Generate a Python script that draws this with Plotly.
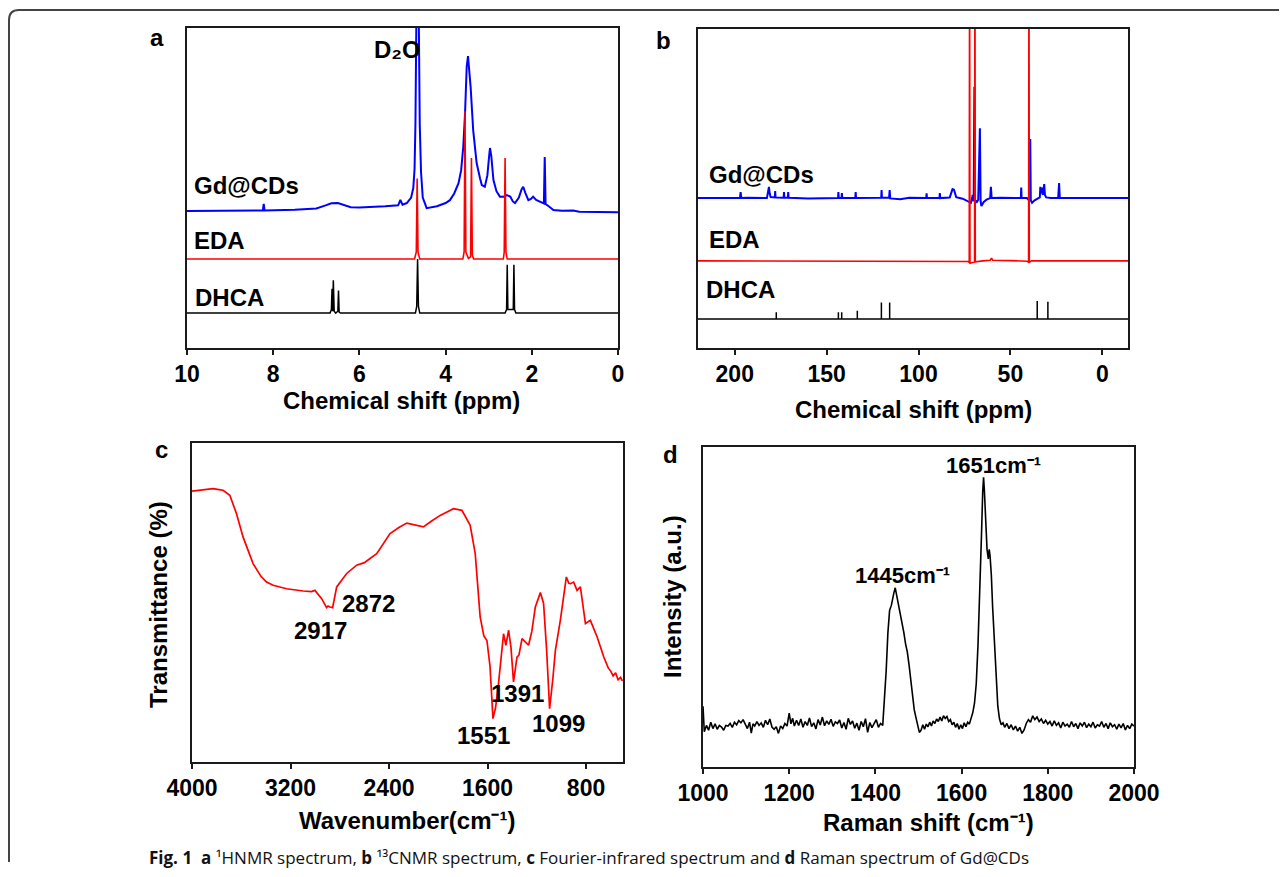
import plotly.graph_objects as go

W, H = 1287, 877
OFFSET = 8  # page margin the browser adds around the plot div

# ---- a: 1H NMR (ppm, offset intensity) ----
hnmr_gd_ppm = [10, 9, 8.3, 8.24, 8.22, 8.2, 7.5, 7.0, 6.8, 6.65, 6.5, 6.35, 6.2, 6.0, 5.8, 5.4, 5.1, 5.05, 5.0,
               4.9, 4.8, 4.75, 4.72, 4.7, 4.68, 4.67, 4.63, 4.62, 4.6, 4.57, 4.53, 4.44, 4.2, 4.0, 3.9, 3.8, 3.7,
               3.64, 3.59, 3.55, 3.53, 3.51, 3.48, 3.45, 3.42, 3.36, 3.28, 3.2, 3.16, 3.09, 3.03, 2.99, 2.97,
               2.94, 2.89, 2.82, 2.74, 2.65, 2.58, 2.5, 2.44, 2.39, 2.3, 2.24, 2.2, 2.15, 2.08, 2.02, 1.97, 1.9,
               1.81, 1.72, 1.7, 1.68, 1.6, 1.5, 1.3, 1.1, 1.04, 0.9, 0]
hnmr_gd_int = [42.8, 42.9, 43.0, 43.0, 45.0, 43.0, 43.2, 43.6, 44.5, 45.2, 45.3, 44.6, 44.0, 43.9, 44.0, 44.3,
               44.6, 46.3, 44.8, 45.3, 47, 50, 56, 70, 100, 125, 125, 100, 70, 55, 47, 43.7, 44.3, 45.3, 46.2,
               48.3, 51.5, 55.5, 62.9, 73, 81.7, 88, 91.2, 87, 81.7, 68.1, 57.8, 53, 50.9, 50.4, 54, 60, 62.5, 60,
               52.5, 49, 47.3, 47.3, 47.8, 47.3, 45.8, 45.3, 47, 49.5, 50.4, 48.5, 46.2, 46.6, 47.3, 46.3, 45.7,
               45.2, 59.7, 45, 44.2, 43.1, 42.9, 42.8, 43.0, 42.6, 42.4]
hnmr_eda_ppm = [10, 4.72, 4.68, 4.66, 4.64, 4.6, 3.6, 3.57, 3.55, 3.53, 3.47, 3.42, 3.4, 3.38, 3.35, 2.66, 2.64,
                2.62, 2.6, 2.57, 0]
hnmr_eda_int = [27.8, 27.8, 30, 53, 30, 27.8, 27.8, 30, 74, 30, 28, 28.5, 59.4, 29, 27.8, 27.8, 30, 59.4, 30,
                27.8, 27.8]
hnmr_dhca_ppm = [10, 6.68, 6.65, 6.635, 6.62, 6.605, 6.585, 6.55, 6.5, 6.485, 6.47, 6.44, 4.7, 4.67, 4.65, 4.63,
                 4.6, 2.62, 2.585, 2.57, 2.555, 2.43, 2.415, 2.4, 2.37, 0]
hnmr_dhca_int = [10.9, 10.9, 12, 18.5, 11.5, 21.2, 11.5, 10.9, 11.5, 18, 11.2, 10.9, 10.9, 13, 27.8, 13, 10.9,
                 10.9, 12, 26, 12, 12, 26, 12, 10.9, 10.9]

# ---- b: 13C NMR ----
cnmr_gd_ppm = [220, 197.2, 196.8, 196.4, 193, 182.5, 181.8, 181.4, 181, 180.5, 178.2, 178, 177.8, 173.4, 173.2,
               173, 171.1, 170.9, 170.7, 160, 143.8, 143.6, 143.4, 141.9, 141.7, 141.5, 134.4, 134.2, 134, 120.3,
               120.1, 119.9, 116, 115.7, 115.4, 110, 105, 95.8, 95.6, 95.4, 88.6, 88.4, 88.2, 83, 81.5, 80.7,
               79.5, 76, 73, 71.5, 70.8, 70.5, 70.0, 69.6, 69.2, 68.5, 67.5, 66.6, 66.2, 65.8, 64.5, 63, 61,
               60.6, 60.2, 55, 48, 44.3, 44.1, 43.9, 41, 40, 39.4, 39.2, 38.9, 38.2, 37, 35, 34, 33.7, 33.4, 32.8,
               32.4, 31.6, 31.2, 30.5, 28, 24, 23.5, 23.1, 10, -14]
cnmr_gd_int = [47, 47, 48.9, 47, 47.1, 47, 49.2, 50.5, 48.5, 47.3, 47.2, 49.2, 47.2, 47.1, 48.9, 47.1, 47.1, 48.9,
               47.1, 46.9, 47, 48.9, 47, 47, 48.6, 47, 47, 48.9, 47, 47.1, 49.5, 47.1, 47.1, 49.5, 46.9, 46.6,
               47.1, 47, 48.5, 47, 47, 48.6, 47, 47.2, 49.8, 49.6, 47.3, 46.8, 45.8, 45.5, 47, 48, 46, 81.9,
               46.5, 45.5, 46.5, 68.9, 46, 44.5, 45.8, 46.5, 47, 50.5, 47, 47.1, 47, 47, 50.3, 47, 47, 46.5, 46,
               65.5, 46.3, 45.5, 46.2, 46.9, 47.2, 50.5, 48.5, 50.3, 48, 51.4, 48, 47.2, 47, 47, 51.7, 47, 47, 47]
cnmr_eda_ppm = [220, 73, 72.4, 72.2, 72.0, 70.5, 69.5, 69.3, 69.1, 65, 61, 60.3, 59.6, 50, 41, 40.1, 39.9, 39.7,
                38.5, -14]
cnmr_eda_int = [27.3, 27.1, 26.8, 130, 26.6, 26.8, 26.9, 130, 27, 27.3, 27.5, 28.2, 27.5, 27.4, 27.2, 26.9, 130,
                26.9, 27.3, 27.3]
cnmr_dhca_ppm = [220, 177.4, 177.4, 177.4, 143.6, 143.6, 143.6, 141.8, 141.8, 141.8, 133.3, 133.3, 133.3,
                 120.2, 120.2, 120.2, 115.7, 115.7, 115.7, 35.4, 35.4, 35.4, 29.6, 29.6, 29.6, -14]
cnmr_dhca_int = [9.1, 9.1, 11.2, 9.1, 9.1, 11.2, 9.1, 9.1, 11.2, 9.1, 9.1, 11.7, 9.1, 9.1, 14.3, 9.1, 9.1, 14.3,
                 9.1, 9.1, 14.7, 9.1, 9.1, 14.5, 9.1, 9.1]

# ---- c: FT-IR ----
ir_wavenumber = [4000, 3900, 3829, 3780, 3748, 3693, 3639, 3585, 3504, 3440, 3395, 3341, 3232, 3097, 3030, 3002,
                 2975, 2947, 2907, 2895, 2880, 2858, 2825, 2744, 2663, 2600, 2554, 2500, 2392, 2320, 2256, 2190,
                 2121, 2060, 1985, 1877, 1808, 1741, 1700, 1660, 1630, 1605, 1580, 1556, 1535, 1511, 1470, 1451,
                 1429, 1410, 1389, 1361, 1345, 1320, 1267, 1240, 1212, 1171, 1145, 1120, 1096, 1070, 1049, 1009,
                 960, 940, 927, 901, 873, 846, 805, 765, 710, 656, 620, 600, 580, 560, 540, 520, 505]
ir_transmittance = [84.9, 85.4, 85.7, 85.4, 85.2, 83.6, 77.9, 70.5, 62.2, 58.2, 56.4, 55.4, 54.3, 53.6, 53.4, 53.8,
                    52.6, 51.2, 48.4, 48.9, 48.6, 48.4, 54.9, 59.1, 61.7, 62.5, 63.8, 65.3, 71.6, 73.5, 74.9, 74.2,
                    73.7, 75.4, 77.3, 79.4, 78.9, 74.2, 65.3, 45.5, 39.5, 38.1, 30, 13.6, 17, 24.6, 40.2, 36.6,
                    41.3, 36, 25.1, 32.9, 33.5, 38.7, 36.6, 41, 48.6, 53.1, 49.7, 35, 16.7, 26, 35.0, 44.4, 58.0,
                    56, 55.9, 56.4, 53.8, 54.9, 43.4, 44.4, 39.2, 32.9, 29.5, 28.5, 27, 28, 25.8, 26.5, 25.4]

# ---- d: Raman ----
raman_shift = [1000, 1003, 1008, 1013, 1018, 1023, 1028, 1033, 1038, 1043, 1048, 1053, 1058, 1063, 1068, 1073,
               1078, 1083, 1088, 1093, 1098, 1103, 1108, 1112, 1116, 1120, 1125, 1130, 1135, 1140, 1145, 1150,
               1155, 1160, 1165, 1170, 1175, 1180, 1185, 1190, 1195, 1200, 1204, 1208, 1212, 1217, 1222, 1227,
               1232, 1237, 1242, 1247, 1252, 1257, 1262, 1267, 1272, 1277, 1282, 1287, 1292, 1297, 1302, 1307,
               1312, 1317, 1322, 1327, 1332, 1337, 1342, 1347, 1352, 1357, 1362, 1367, 1372, 1377, 1382, 1387,
               1392, 1397, 1402, 1407, 1412, 1417, 1421, 1425, 1429, 1433, 1437, 1440, 1443, 1446, 1449, 1452,
               1455, 1458, 1462, 1466, 1470, 1474, 1478, 1482, 1486, 1490, 1494, 1498, 1502, 1506, 1510, 1514,
               1518, 1522, 1526, 1530, 1534, 1538, 1542, 1546, 1550, 1554, 1558, 1562, 1566, 1570, 1574, 1578,
               1582, 1586, 1590, 1594, 1598, 1602, 1606, 1610, 1614, 1618, 1622, 1626, 1630, 1634, 1638, 1642,
               1646, 1649, 1651, 1653, 1656, 1659, 1662, 1664, 1666, 1669, 1672, 1675, 1678, 1681, 1684, 1688,
               1692, 1696, 1700, 1705, 1710, 1715, 1720, 1725, 1730, 1735, 1740, 1745, 1750, 1755, 1760, 1765,
               1770, 1775, 1780, 1785, 1790, 1795, 1800, 1805, 1810, 1815, 1820, 1825, 1830, 1835, 1840, 1845,
               1850, 1855, 1860, 1865, 1870, 1875, 1880, 1885, 1890, 1895, 1900, 1905, 1910, 1915, 1920, 1925,
               1930, 1935, 1940, 1945, 1950, 1955, 1960, 1965, 1970, 1975, 1980, 1985, 1990, 1995, 2000]
raman_intensity = [19, 11, 13, 11.5, 14, 12, 13.5, 11.8, 13, 12.5, 11.5, 13, 12.8, 13.6, 12.4, 14, 13.2, 14.5,
                   13.8, 14.8, 13.4, 12, 14, 10.6, 13.5, 12.8, 14.2, 13, 13.8, 12.4, 14.6, 13.2, 15, 12.5, 11.8,
                   12.6, 10.5, 12.8, 12, 13.6, 12.8, 16.8, 13.5, 15.2, 12.8, 14.6, 13, 15, 12.4, 14.2, 13, 15.3,
                   12.6, 13.8, 11.9, 14.8, 13.1, 15.6, 12.9, 14.4, 13.3, 14.9, 12.7, 14.1, 13.6, 14.7, 12.2, 13.9,
                   11.8, 15.2, 13.3, 14.4, 12.1, 13.7, 11.5, 14.2, 12.6, 15.1, 10.8, 13.9, 12.3, 13.5, 14.8, 12.4,
                   13.6, 13, 20, 30, 42, 49, 50.5, 53, 54.5, 56, 54, 52.5, 50, 48.5, 45, 42, 38.5, 36, 32, 27, 22,
                   18, 15.5, 13, 10.8, 11.5, 13.2, 11.8, 13.4, 12.6, 14, 12.8, 14.4, 13.6, 15, 14.2, 15.6, 14.4, 16,
                   15.2, 15.8, 14.2, 14.8, 13.2, 14, 12.4, 13.6, 11.8, 13.2, 12, 13.8, 12.6, 14, 13.4, 15, 17, 20,
                   26, 38, 52, 72, 86, 90.5, 86, 76, 68, 65, 68, 66, 60, 50, 42, 33, 25, 19, 15, 13.2, 13.8, 12.4,
                   13.6, 12, 13.2, 11.6, 12.8, 11.2, 12.4, 10.5, 11.6, 13.6, 14.8, 14, 16, 14.8, 15.6, 14.2, 15,
                   13.6, 14.6, 13.4, 14.2, 12.8, 14.4, 13, 13.8, 12.2, 14, 12.8, 13.4, 12.4, 14.2, 12.6, 13.6, 12,
                   13.8, 12.8, 14, 12.3, 13.4, 12.6, 14, 12.2, 13.2, 12.8, 14.2, 12.4, 13.6, 12, 13.8, 12.6, 13.2,
                   11.8, 13.4, 12.2, 13.6, 11.6, 13, 12, 13.4, 12.8]

BLUE, RED, BLACK = "#0000ff", "#ff0000", "#000000"
FONT = "Liberation Sans, Arial, sans-serif"


def px_x(p):
    return (p - OFFSET) / W


def px_y(p):
    return 1 - (p - OFFSET) / H


fig = go.Figure()
fig.add_trace(go.Scatter(x=hnmr_gd_ppm, y=hnmr_gd_int, line=dict(color=BLUE, width=2), xaxis="x", yaxis="y"))
fig.add_trace(go.Scatter(x=hnmr_eda_ppm, y=hnmr_eda_int, line=dict(color=RED, width=1.6), xaxis="x", yaxis="y"))
fig.add_trace(go.Scatter(x=hnmr_dhca_ppm, y=hnmr_dhca_int, line=dict(color=BLACK, width=1.5), xaxis="x", yaxis="y"))
fig.add_trace(go.Scatter(x=cnmr_gd_ppm, y=cnmr_gd_int, line=dict(color=BLUE, width=2), xaxis="x2", yaxis="y2"))
fig.add_trace(go.Scatter(x=cnmr_eda_ppm, y=cnmr_eda_int, line=dict(color=RED, width=1.6), xaxis="x2", yaxis="y2"))
fig.add_trace(go.Scatter(x=cnmr_dhca_ppm, y=cnmr_dhca_int, line=dict(color=BLACK, width=1.5), xaxis="x2", yaxis="y2"))
fig.add_trace(go.Scatter(x=ir_wavenumber, y=ir_transmittance, line=dict(color=RED, width=1.7), xaxis="x3", yaxis="y3"))
fig.add_trace(go.Scatter(x=raman_shift, y=raman_intensity, line=dict(color=BLACK, width=1.6), xaxis="x4", yaxis="y4"))
fig.update_traces(mode="lines", showlegend=False, hoverinfo="skip")

tickfont = dict(family=FONT, size=23, color="black", weight="bold")
xbase = dict(showline=True, mirror=True, linecolor="#1a1a1a", linewidth=1.5, ticks="outside", ticklen=5,
             tickwidth=1.5, tickcolor="#1a1a1a", showgrid=False, zeroline=False, tickfont=tickfont,
             automargin=False)
ybase = dict(showline=True, mirror=True, linecolor="#1a1a1a", linewidth=1.5, ticks="", showticklabels=False,
             showgrid=False, zeroline=False, range=[0, 100], automargin=False)

# panel frames in pixels: (left, right, top, bottom)
frames = {
    "a": (187, 618, 28, 348),
    "b": (698, 1128, 29, 348),
    "c": (192, 623, 443, 762),
    "d": (703, 1134, 447, 767),
}


def dom(k):
    l, r, t, b = frames[k]
    return [px_x(l), px_x(r)], [px_y(b), px_y(t)]


dxa, dya = dom("a")
dxb, dyb = dom("b")
dxc, dyc = dom("c")
dxd, dyd = dom("d")

fig.update_layout(
    template="none",
    width=W, height=H, autosize=False,
    margin=dict(l=0, r=0, t=0, b=0, pad=0, autoexpand=False),
    paper_bgcolor="white", plot_bgcolor="white",
    xaxis=dict(xbase, domain=dxa, range=[10, 0], tickvals=[10, 8, 6, 4, 2, 0], anchor="y"),
    yaxis=dict(ybase, domain=dya, anchor="x"),
    xaxis2=dict(xbase, domain=dxb, range=[220, -14], tickvals=[200, 150, 100, 50, 0], anchor="y2"),
    yaxis2=dict(ybase, domain=dyb, anchor="x2"),
    xaxis3=dict(xbase, domain=dxc, range=[4000, 500], tickvals=[4000, 3200, 2400, 1600, 800], anchor="y3"),
    yaxis3=dict(ybase, domain=dyc, anchor="x3"),
    xaxis4=dict(xbase, domain=dxd, range=[1000, 2000], tickvals=[1000, 1200, 1400, 1600, 1800, 2000], anchor="y4"),
    yaxis4=dict(ybase, domain=dyd, anchor="x4"),
)

bold = dict(family=FONT, size=24, color="black", weight="bold")
notes = []


def note(text, x, y, size=24, angle=0, xanchor="center", font=None):
    notes.append(dict(text=text, x=px_x(x), y=px_y(y), xref="paper", yref="paper", xanchor=xanchor,
                      yanchor="middle", showarrow=False, textangle=angle, font=font or dict(bold, size=size)))


# series labels
note("Gd@CDs", 192, 186, xanchor="left")
note("EDA", 192, 241, xanchor="left")
note("DHCA", 193, 297, xanchor="left")
note("D₂O", 372, 50, xanchor="left")
note("Gd@CDs", 707, 174, xanchor="left")
note("EDA", 707, 239, xanchor="left")
note("DHCA", 704, 290, xanchor="left")
# peak labels
note("2917", 320, 630)
note("2872", 368, 603)
note("1551", 483, 735)
note("1391", 517, 693)
note("1099", 558, 723)
note("1445cm⁻¹", 903, 575, size=22)
note("1651cm⁻¹", 993, 465, size=22)

# panel letters
note("a", 157, 38)
note("b", 663, 40)
note("c", 161, 450)
note("d", 670, 455)

# axis titles
note("Chemical shift (ppm)", 402, 400)
note("Chemical shift (ppm)", 913, 409)
note("Wavenumber(cm⁻¹)", 407, 820)
note("Raman shift (cm⁻¹)", 928, 822)
note("Transmittance (%)", 158, 605, angle=-90)
note("Intensity (a.u.)", 672, 597, angle=-90)

# caption
cap_font = dict(family="Open Sans, Noto Sans, sans-serif", size=17, color="#111111")
note("<b>Fig. 1</b>  <b>a</b> ¹HNMR spectrum, <b>b</b> ¹³CNMR spectrum, "
     "<b>c</b> Fourier-infrared spectrum and <b>d</b> Raman spectrum of Gd@CDs",
     147, 857, xanchor="left", font=cap_font)

fig.update_layout(annotations=notes)

# page border (top rule and left rule with rounded corner)
fig.add_shape(type="path", xref="paper", yref="paper",
              path=f"M {px_x(9)},{px_y(862)} L {px_x(9)},{px_y(20)} Q {px_x(9)},{px_y(10)} {px_x(19)},{px_y(10)} "
                   f"L 1,{px_y(10)}",
              line=dict(color="#444444", width=2))

fig.write_html("out.html")
